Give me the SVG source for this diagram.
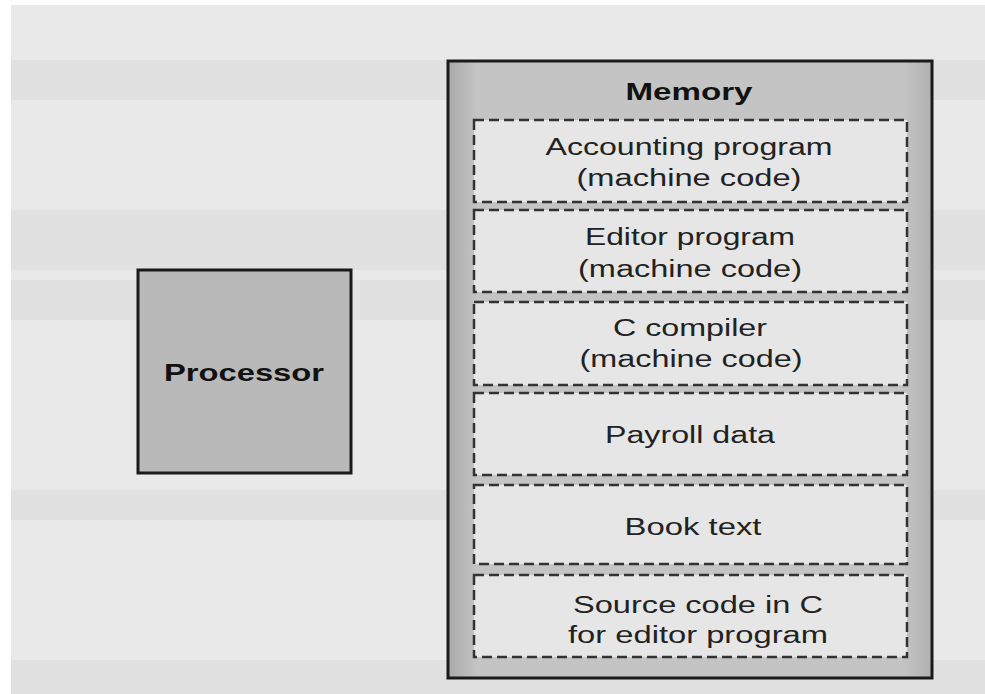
<svg xmlns="http://www.w3.org/2000/svg" width="985" height="694" viewBox="0 0 985 694">
<style>
.t{font-family:"Liberation Sans",Arial,sans-serif;font-size:23px;fill:#222;text-anchor:middle}
.b{font-family:"Liberation Sans",Arial,sans-serif;font-size:23px;font-weight:bold;fill:#111;text-anchor:middle}
.seg{fill:#e6e6e6;stroke:#333;stroke-width:2.5;stroke-dasharray:10 5}
.band{fill:#e1e1e1}
</style>
<defs>
<linearGradient id="mg" x1="0" y1="0" x2="1" y2="0">
<stop offset="0" stop-color="#a9a9a9"/>
<stop offset="0.06" stop-color="#c4c4c4"/>
<stop offset="0.94" stop-color="#c4c4c4"/>
<stop offset="1" stop-color="#b0b0b0"/>
</linearGradient>
</defs>
<rect x="0" y="0" width="985" height="694" fill="#ffffff"/>
<rect x="11" y="5" width="974" height="689" fill="#e9e9e9"/>
<rect class="band" x="11" y="60" width="974" height="40"/>
<rect class="band" x="11" y="210" width="974" height="60"/>
<rect class="band" x="11" y="280" width="974" height="40"/>
<rect class="band" x="11" y="490" width="974" height="30"/>
<rect class="band" x="11" y="660" width="974" height="34"/>
<g id="processor">
<rect x="138" y="270" width="213" height="203" fill="#b9b9b9" stroke="#1a1a1a" stroke-width="3"/>
<text class="b" x="244" y="381" textLength="160" lengthAdjust="spacingAndGlyphs">Processor</text>
</g>
<g id="memory">
<rect x="448" y="61" width="484" height="617" fill="url(#mg)" stroke="#1a1a1a" stroke-width="3"/>
<text class="b" x="689" y="100" textLength="127" lengthAdjust="spacingAndGlyphs">Memory</text>
</g>
<g id="accounting">
<rect class="seg" x="474" y="120" width="433" height="82"/>
<text class="t" x="689" y="155" textLength="287" lengthAdjust="spacingAndGlyphs">Accounting program</text>
<text class="t" x="689" y="186" textLength="225" lengthAdjust="spacingAndGlyphs">(machine code)</text>
</g>
<g id="editor">
<rect class="seg" x="474" y="210" width="433" height="82"/>
<text class="t" x="690" y="245" textLength="210" lengthAdjust="spacingAndGlyphs">Editor program</text>
<text class="t" x="690" y="277" textLength="224" lengthAdjust="spacingAndGlyphs">(machine code)</text>
</g>
<g id="compiler">
<rect class="seg" x="474" y="302" width="433" height="83"/>
<text class="t" x="690" y="336" textLength="154" lengthAdjust="spacingAndGlyphs">C compiler</text>
<text class="t" x="691" y="367" textLength="223" lengthAdjust="spacingAndGlyphs">(machine code)</text>
</g>
<g id="payroll">
<rect class="seg" x="474" y="393" width="433" height="82"/>
<text class="t" x="690" y="443" textLength="170" lengthAdjust="spacingAndGlyphs">Payroll data</text>
</g>
<g id="book">
<rect class="seg" x="474" y="485" width="433" height="79"/>
<text class="t" x="693" y="535" textLength="137" lengthAdjust="spacingAndGlyphs">Book text</text>
</g>
<g id="source">
<rect class="seg" x="474" y="575" width="433" height="82"/>
<text class="t" x="698" y="613" textLength="250" lengthAdjust="spacingAndGlyphs">Source code in C</text>
<text class="t" x="698" y="643" textLength="260" lengthAdjust="spacingAndGlyphs">for editor program</text>
</g>
<g id="connectors"></g>
</svg>
